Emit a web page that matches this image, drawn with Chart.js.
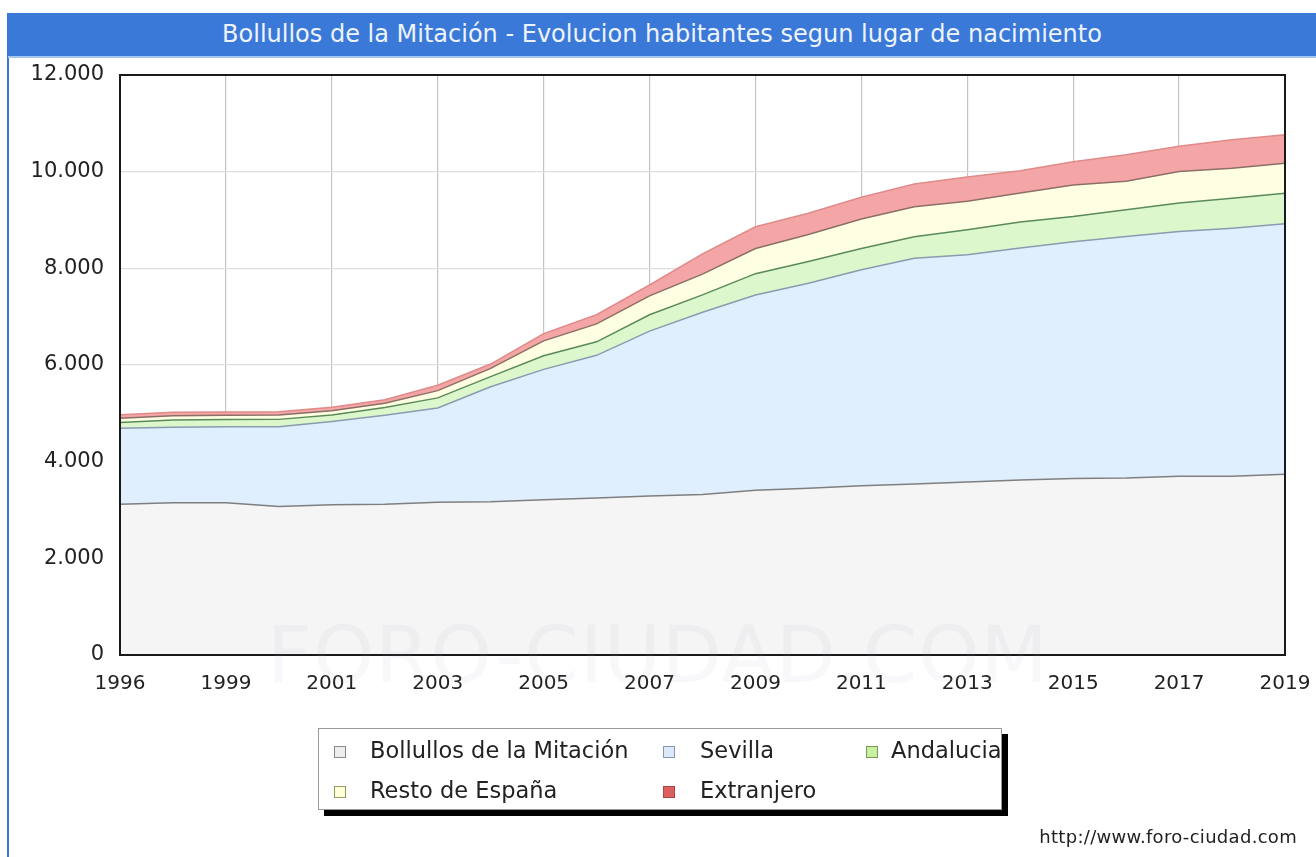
<!DOCTYPE html>
<html>
<head>
<meta charset="utf-8">
<script src="https://cdn.jsdelivr.net/npm/chart.js@4.4.1/dist/chart.umd.min.js"></script>
<style>
  html, body { margin:0; padding:0; background:#fff; width:1316px; height:857px; overflow:hidden; font-family:"DejaVu Sans", sans-serif; }
  #titlebar { position:absolute; left:8px; top:13px; width:1308px; height:43px; background:#3b79d8; color:#eef4ff; font-size:24px; line-height:43px; text-align:center; }
  #titleline { position:absolute; left:8px; top:56px; width:1308px; height:2px; background:#a9c6ef; }
  #leftline { position:absolute; left:7px; top:13px; width:2px; height:844px; background:#3b79d8; }
  #chartwrap { position:absolute; left:0; top:0; width:1316px; height:857px; }
  #watermark { position:absolute; left:0; width:1316px; top:610px; text-align:center; font-size:78px; color:rgba(170,170,200,0.08); pointer-events:none; letter-spacing:1px; }
  #legend { position:absolute; left:318px; top:728px; width:682px; height:80px; background:#fff; border:1px solid #999; box-shadow:6px 6px 0 #000; }
  .li { position:absolute; font-size:22.5px; color:#222; white-space:nowrap; }
  .mk { position:absolute; width:10px; height:10px; border:1px solid #888; }
  #footer { position:absolute; right:19px; top:826px; font-size:18px; color:#222; letter-spacing:0.3px; }
</style>
</head>
<body>
<div id="leftline"></div>
<div id="titlebar">Bollullos de la Mitación - Evolucion habitantes segun lugar de nacimiento</div>
<div id="titleline"></div>
<div id="chartwrap"><canvas id="c" width="1316" height="857"></canvas></div>
<div id="watermark">FORO-CIUDAD.COM</div>
<div id="legend"></div>
<div id="footer">http://www.foro-ciudad.com</div>
<script>
// ---- data ----
const years = ['1996','1998','1999','2000','2001','2002','2003','2004','2005','2006','2007','2008','2009','2010','2011','2012','2013','2014','2015','2016','2017','2018','2019'];
const tickLabels = ['1996','','1999','','2001','','2003','','2005','','2007','','2009','','2011','','2013','','2015','','2017','','2019'];
const yTicks = [0,2000,4000,6000,8000,10000,12000];
const seriesNames = ['Bollullos de la Mitación','Sevilla','Andalucia','Resto de España','Extranjero'];
const bollullos = [3120,3150,3150,3070,3110,3120,3160,3170,3210,3250,3290,3320,3410,3450,3500,3540,3580,3620,3650,3660,3700,3700,3740];
const sevilla   = [1570,1560,1570,1650,1720,1840,1950,2380,2700,2950,3410,3770,4040,4240,4470,4670,4700,4800,4900,5000,5060,5130,5180];
const andalucia = [120,150,150,155,135,160,210,210,280,280,340,360,440,450,440,445,520,540,520,550,590,620,635];
const resto     = [90,90,90,90,90,90,150,170,310,370,390,430,520,560,610,620,590,600,655,590,655,620,620];
const extranjero= [70,70,70,70,70,70,110,90,150,190,225,420,450,440,450,470,500,460,480,550,520,590,590];

// ---- styles ----
const fills   = ['#f5f5f5','#e0effe','#ddf7cc','#fefee3','#f4a6a6'];
const borders = ['#7f7f7f','#8a9bb0','#5a8a5a','#8c6f66','#e08a8a'];
const markerFill = ['#eeeeee','#dde9f8','#c8f0a0','#fefed8','#de5f5f'];
const markerBorder = ['#888888','#8899aa','#779955','#999966','#aa4444'];
const allSeries = [bollullos, sevilla, andalucia, resto, extranjero];

const fmt = v => String(v).replace(/\B(?=(\d{3})+(?!\d))/g, '.');

const frame = {
  id: 'frame',
  afterDraw(chart) {
    const a = chart.chartArea, ctx = chart.ctx;
    ctx.save();
    ctx.strokeStyle = '#1a1a1a';
    ctx.lineWidth = 2;
    ctx.strokeRect(a.left, a.top, a.right - a.left, a.bottom - a.top);
    ctx.restore();
  }
};

new Chart(document.getElementById('c'), {
  type: 'line',
  data: {
    labels: years,
    datasets: allSeries.map((d, i) => ({
      label: seriesNames[i],
      data: d,
      fill: i === 0 ? 'origin' : '-1',
      backgroundColor: fills[i],
      borderColor: borders[i],
      borderWidth: 1.5,
      pointRadius: 0,
      tension: 0
    }))
  },
  options: {
    responsive: false,
    animation: false,
    events: [],
    layout: { padding: { top: 75, right: 31, bottom: 152, left: 0 } },
    plugins: { legend: { display: false }, tooltip: { enabled: false }, title: { display: false } },
    scales: {
      x: {
        z: 1,
        offset: false,
        afterFit(s) { s.height = 50; s.paddingLeft = 0; s.paddingRight = 0; },
        grid: { drawTicks: false, color: c => (c.index % 2 === 0 ? '#c4c4c4' : 'rgba(0,0,0,0)'), lineWidth: 1.2 },
        border: { display: false },
        ticks: { autoSkip: false, maxRotation: 0, padding: 17, color: '#222', font: { family: 'DejaVu Sans', size: 20 },
                 callback: (v, i) => tickLabels[i] }
      },
      y: {
        z: 1,
        stacked: true,
        min: 0, max: 12000,
        afterFit(s) { s.width = 120; },
        afterBuildTicks(s) { s.ticks = yTicks.map(v => ({ value: v })); },
        grid: { drawTicks: false, color: '#dedede', lineWidth: 1.2 },
        border: { display: false },
        ticks: { padding: 16, color: '#222', font: { family: 'DejaVu Sans', size: 21 }, callback: v => fmt(v) }
      }
    }
  },
  plugins: [frame]
});

// ---- HTML legend built from the series ----
const legend = document.getElementById('legend');
const pos = [[15,17,51,16],[344,17,381,16],[547,17,572,16],[15,57,51,56],[344,57,381,56]];
seriesNames.forEach((n, i) => {
  const m = document.createElement('div');
  m.className = 'mk';
  m.style.left = pos[i][0] + 'px'; m.style.top = pos[i][1] + 'px';
  m.style.background = markerFill[i]; m.style.borderColor = markerBorder[i];
  legend.appendChild(m);
  const t = document.createElement('div');
  t.className = 'li';
  t.style.left = pos[i][2] + 'px'; t.style.top = (pos[i][3] - 8) + 'px';
  t.textContent = n;
  legend.appendChild(t);
});
</script>
</body>
</html>
